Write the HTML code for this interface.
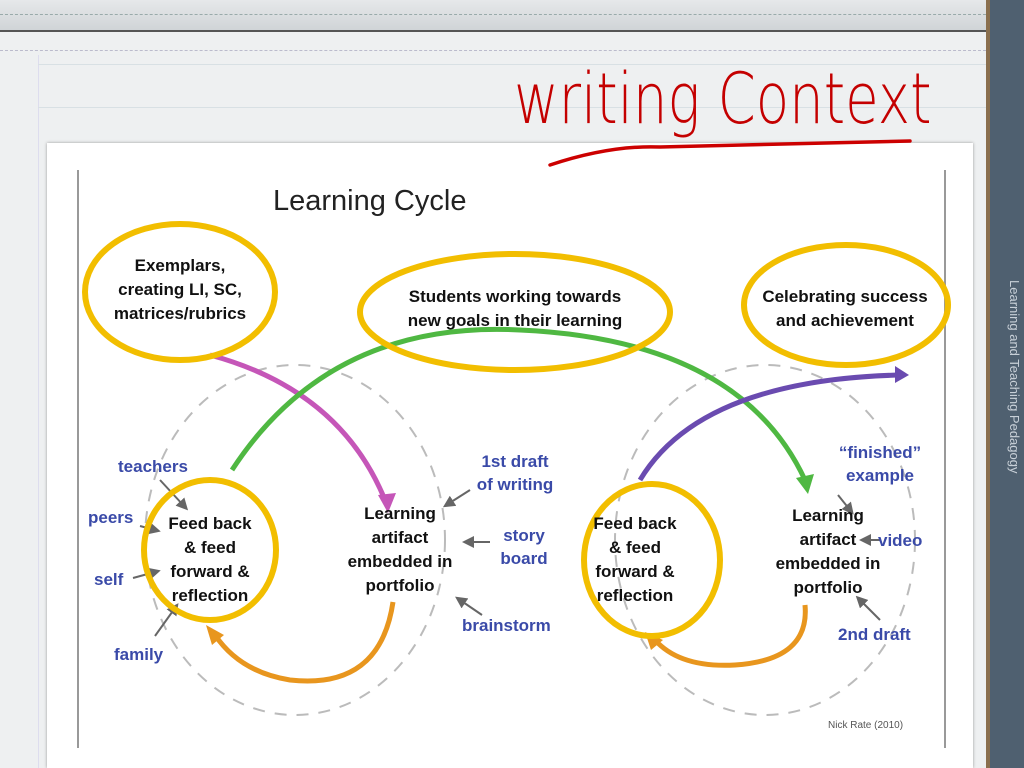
<!DOCTYPE html>
<html><head><meta charset="utf-8"><style>
body{margin:0;width:1024px;height:768px;overflow:hidden;background:#eef0f1;font-family:"Liberation Sans",sans-serif;position:relative}
.t{position:absolute;font-weight:bold;color:#111;text-align:center;line-height:24px;font-size:17px}
.b{position:absolute;font-weight:bold;color:#3a4aa8;text-align:center;line-height:23px;font-size:17px}
</style></head><body>
<div style="position:absolute;left:0;top:0;width:986px;height:30px;background:linear-gradient(#e6e8ea,#d0d4d7);border-bottom:2px solid #555"></div>
<div style="position:absolute;left:0;top:14px;width:986px;border-top:1px dashed #9aa"></div>
<div style="position:absolute;left:0;top:50px;width:986px;border-top:1px dashed #bbc"></div>
<div style="position:absolute;left:38px;top:55px;width:0;height:713px;border-left:1px solid #dde"></div>
<div style="position:absolute;left:38px;top:64px;width:948px;border-top:1px solid #d8e0e4"></div>
<div style="position:absolute;left:38px;top:107px;width:948px;border-top:1px solid #d8e0e4"></div>
<div style="position:absolute;left:986px;top:0;width:38px;height:768px;background:#4f6070;border-left:4px solid #8a6f4e"></div>
<div style="position:absolute;top:280px;color:#c8d0d8;font-size:13px;transform:rotate(90deg);transform-origin:0 0;white-space:nowrap;left:1022px">Learning and Teaching Pedagogy</div>
<div style="position:absolute;left:47px;top:143px;width:926px;height:625px;background:#fff;box-shadow:0 0 3px #999"></div>
<div style="position:absolute;left:77px;top:170px;width:0;height:578px;border-left:2px solid #999"></div>
<div style="position:absolute;left:944px;top:170px;width:0;height:578px;border-left:2px solid #999"></div>
<div style="position:absolute;left:273px;top:185px;font-size:29px;color:#222">Learning Cycle</div>
<div style="position:absolute;left:514px;top:58px;font-family:'DejaVu Sans','Liberation Sans',sans-serif;font-weight:200;font-size:70px;color:#c40000;white-space:nowrap;transform:scaleX(0.78);transform-origin:0 0">writing Context</div>
<svg style="position:absolute;left:0;top:0" width="1024" height="768">
<defs>
<marker id="m" markerWidth="6" markerHeight="6" refX="3" refY="3" orient="auto"><path d="M0,0L6,3L0,6z" fill="#666"/></marker>
</defs>
<path d="M550 165 q60 -20 110 -18 l250 -6" fill="none" stroke="#c00" stroke-width="3.5" stroke-linecap="round"/>
<ellipse cx="295" cy="540" rx="150" ry="175" fill="none" stroke="#bbb" stroke-width="2" stroke-dasharray="12 10"/>
<ellipse cx="765" cy="540" rx="150" ry="175" fill="none" stroke="#bbb" stroke-width="2" stroke-dasharray="12 10"/>
<path d="M210 355 Q340 390 385 500" fill="none" stroke="#c556b8" stroke-width="5"/>
<path d="M378 495 l10 18 l8 -20z" fill="#c556b8"/>
<path d="M232 470 Q330 320 520 330 Q740 340 805 480" fill="none" stroke="#4fb842" stroke-width="5"/>
<path d="M796 478 l12 16 l6 -20z" fill="#4fb842"/>
<path d="M640 480 Q700 380 900 375" fill="none" stroke="#6a4bb0" stroke-width="5"/>
<path d="M895 366 l14 9 l-14 8z" fill="#6a4bb0"/>
<path d="M393 602 Q380 690 290 680 Q240 672 215 635" fill="none" stroke="#e8961e" stroke-width="5"/>
<path d="M206 625 l6 20 l12 -10z" fill="#e8961e"/>
<path d="M805 605 Q810 660 735 665 Q680 668 655 640" fill="none" stroke="#e8961e" stroke-width="5"/>
<path d="M645 632 l6 18 l12 -10z" fill="#e8961e"/>
<g stroke="#666" stroke-width="2" marker-end="url(#m)">
<line x1="160" y1="480" x2="184" y2="506"/><line x1="140" y1="526" x2="155" y2="530"/>
<line x1="133" y1="578" x2="155" y2="572"/><line x1="155" y1="636" x2="175" y2="608"/>
<line x1="470" y1="490" x2="448" y2="504"/><line x1="490" y1="542" x2="468" y2="542"/>
<line x1="482" y1="615" x2="460" y2="600"/><line x1="838" y1="495" x2="850" y2="510"/>
<line x1="880" y1="540" x2="865" y2="540"/><line x1="880" y1="620" x2="860" y2="600"/>
</g>
<g fill="none" stroke="#f2be00" stroke-width="6">
<ellipse cx="180" cy="292" rx="95" ry="68"/>
<ellipse cx="515" cy="312" rx="155" ry="58"/>
<ellipse cx="846" cy="305" rx="102" ry="60"/>
<ellipse cx="210" cy="550" rx="66" ry="70"/>
<ellipse cx="652" cy="560" rx="68" ry="76"/>
</g>
</svg>
<div class="t" style="left:95px;top:254px;width:170px">Exemplars,<br>creating LI, SC,<br>matrices/rubrics</div>
<div class="t" style="left:375px;top:285px;width:280px">Students working towards<br>new goals in their learning</div>
<div class="t" style="left:745px;top:285px;width:200px">Celebrating success<br>and achievement</div>
<div class="t" style="left:150px;top:512px;width:120px">Feed back<br>&amp; feed<br>forward &amp;<br>reflection</div>
<div class="t" style="left:330px;top:502px;width:140px">Learning<br>artifact<br>embedded in<br>portfolio</div>
<div class="t" style="left:575px;top:512px;width:120px">Feed back<br>&amp; feed<br>forward &amp;<br>reflection</div>
<div class="t" style="left:758px;top:504px;width:140px">Learning<br>artifact<br>embedded in<br>portfolio</div>
<div class="b" style="left:118px;top:455px">teachers</div>
<div class="b" style="left:88px;top:506px">peers</div>
<div class="b" style="left:94px;top:568px">self</div>
<div class="b" style="left:114px;top:643px">family</div>
<div class="b" style="left:465px;top:450px;width:100px">1st draft<br>of writing</div>
<div class="b" style="left:492px;top:524px;width:64px">story<br>board</div>
<div class="b" style="left:462px;top:614px">brainstorm</div>
<div class="b" style="left:825px;top:441px;width:110px">“finished”<br>example</div>
<div class="b" style="left:878px;top:529px">video</div>
<div class="b" style="left:838px;top:623px">2nd draft</div>
<div style="position:absolute;left:828px;top:720px;font-size:10px;color:#555">Nick Rate (2010)</div>
</body></html>
